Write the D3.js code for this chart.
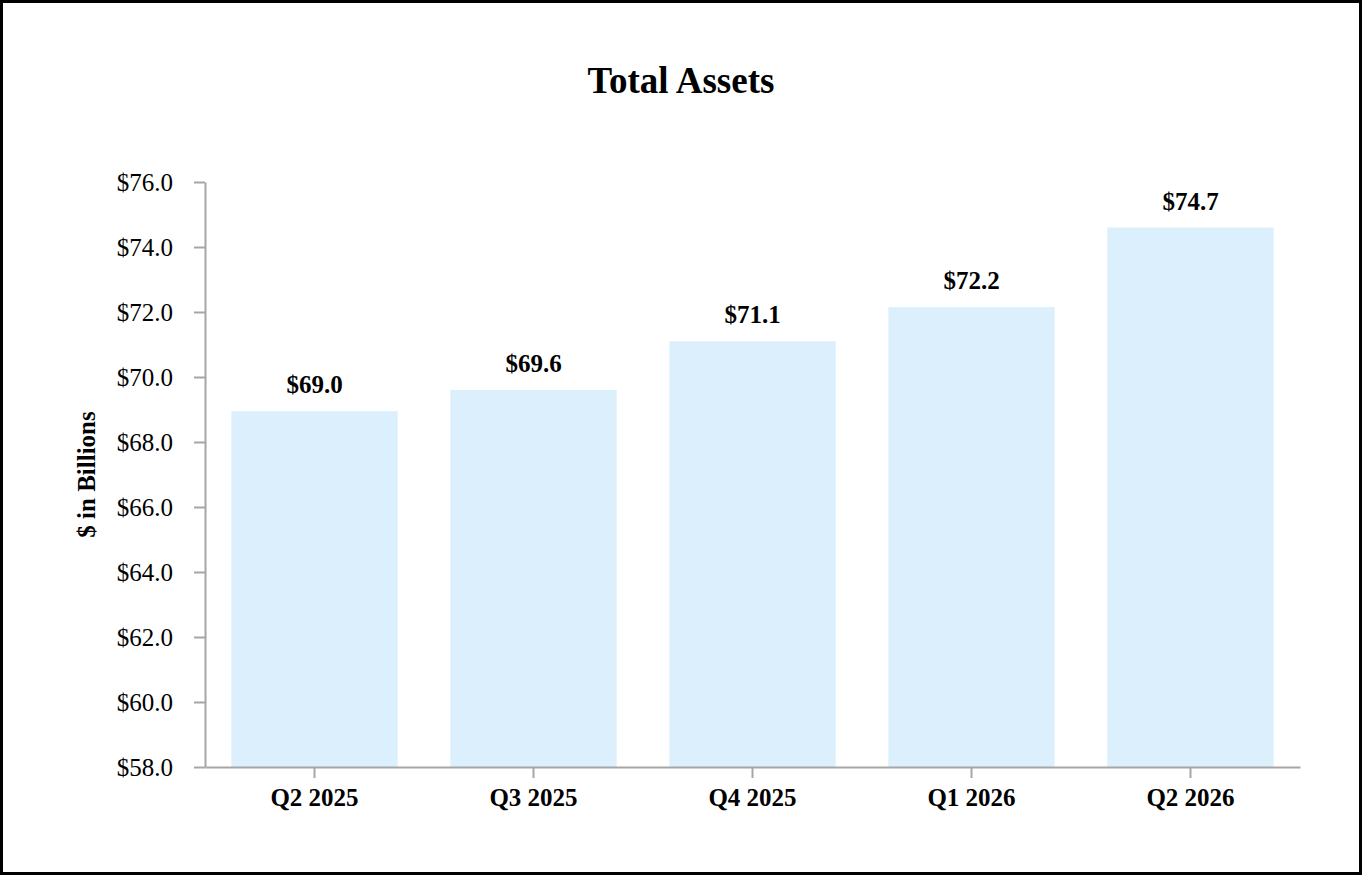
<!DOCTYPE html>
<html>
<head>
<meta charset="utf-8">
<script src="https://cdn.jsdelivr.net/npm/d3@7"></script>
<style>
  body { margin: 0; background: #fff; }
  text { font-family: "Liberation Serif", "Times New Roman", serif; fill: #000; }
</style>
</head>
<body>
<script>
// Data
const quarters = ["Q2 2025", "Q3 2025", "Q4 2025", "Q1 2026", "Q2 2026"];
const assets = [68.95, 69.6, 71.1, 72.15, 74.6];
const assetLabels = ["$69.0", "$69.6", "$71.1", "$72.2", "$74.7"];
const yTicks = [58, 60, 62, 64, 66, 68, 70, 72, 74, 76];

// Dimensions
const W = 1364, H = 878;
const plot = { left: 205, right: 1300, top: 182, bottom: 767 };
const axisColor = "#a6a6a6";

const svg = d3.select("body")
    .append("svg")
    .attr("width", W)
    .attr("height", H);

// outer frame
svg.append("rect")
    .attr("x", 1.5).attr("y", 1.5)
    .attr("width", 1359).attr("height", 872)
    .attr("fill", "#fff")
    .attr("stroke", "#000")
    .attr("stroke-width", 3);

const x = d3.scaleBand()
    .domain(quarters)
    .range([plot.left, plot.right])
    .paddingInner(0.24)
    .paddingOuter(0.12);

const y = d3.scaleLinear()
    .domain([58, 76])
    .range([plot.bottom, plot.top]);

// bars
svg.selectAll("rect.bar")
    .data(assets)
    .enter()
    .append("rect")
    .attr("class", "bar")
    .attr("x", (d, i) => x(quarters[i]))
    .attr("y", d => y(d))
    .attr("width", x.bandwidth())
    .attr("height", d => y(58) - y(d))
    .attr("fill", "#dbf0fc");

// value labels
svg.selectAll("text.val")
    .data(assets)
    .enter()
    .append("text")
    .attr("class", "val")
    .attr("x", (d, i) => x(quarters[i]) + x.bandwidth() / 2)
    .attr("y", d => y(d) - 18)
    .attr("text-anchor", "middle")
    .style("font-size", "25px")
    .style("font-weight", "bold")
    .text((d, i) => assetLabels[i]);

// y axis
const yAxis = svg.append("g")
    .attr("transform", `translate(${plot.left},0)`)
    .call(d3.axisLeft(y)
        .tickValues(yTicks)
        .tickSize(11)
        .tickSizeOuter(0)
        .tickPadding(21)
        .tickFormat(d => "$" + d.toFixed(1)));

yAxis.selectAll("text")
    .style("font-size", "25px")
    .attr("font-family", null);

// x axis
const xAxis = svg.append("g")
    .attr("transform", `translate(0,${plot.bottom})`)
    .call(d3.axisBottom(x)
        .tickSize(11)
        .tickSizeOuter(0)
        .tickPadding(10));

xAxis.selectAll("text")
    .style("font-size", "25px")
    .style("font-weight", "bold")
    .attr("font-family", null);

svg.selectAll(".domain, .tick line")
    .attr("stroke", axisColor)
    .attr("stroke-width", 2);

// titles
svg.append("text")
    .attr("x", 681)
    .attr("y", 93)
    .attr("text-anchor", "middle")
    .style("font-size", "37px")
    .style("font-weight", "bold")
    .text("Total Assets");

svg.append("text")
    .attr("transform", `translate(95,${(plot.top + plot.bottom) / 2}) rotate(-90)`)
    .attr("text-anchor", "middle")
    .style("font-size", "25px")
    .style("font-weight", "bold")
    .text("$ in Billions");
</script>
</body>
</html>
